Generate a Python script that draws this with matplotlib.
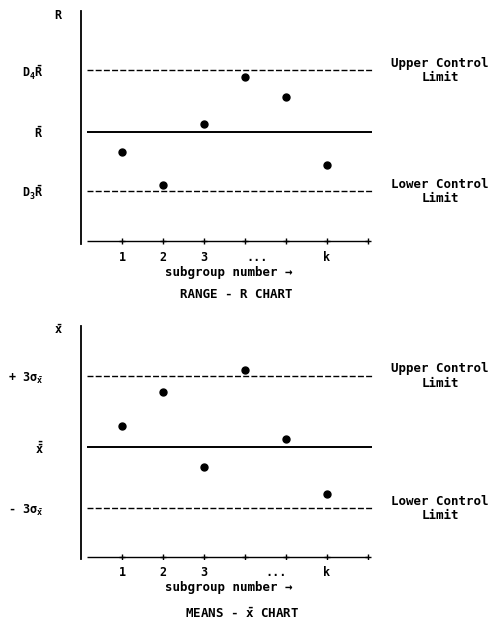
#!/usr/bin/env python3

# Shewhart control charts: range (R) chart on top, means (x-bar) chart below.

from matplotlib import pyplot as plt

plt.rcParams["font.family"] = ["DejaVu Sans Mono"]
plt.rcParams["font.weight"] = "bold"
plt.rcParams["axes.labelweight"] = "bold"
plt.rcParams["mathtext.fontset"] = "custom"
plt.rcParams["mathtext.rm"] = "DejaVu Sans Mono:bold"
plt.rcParams["mathtext.it"] = "DejaVu Sans Mono:bold"
plt.rcParams["mathtext.bf"] = "DejaVu Sans Mono:bold"

# subgroup positions and tick labels
subgroups = [1, 2, 3, 4, 5, 6]
tick_pos = [1, 2, 3, 7]
tick_lab = ["1", "2", "3", ""]

# range chart (centre line = 0)
r_values = [-0.98, -2.6, 0.4, 2.7, 1.7, -1.6]
r_ucl, r_cl, r_lcl = 3.0, 0.0, -2.9
r_ylabels = [r"$D_4\bar{R}$", r"$\bar{R}$", r"$D_3\bar{R}$"]

# means chart (centre line = 0)
m_values = [1.0, 2.7, -1.0, 3.75, 0.4, -2.3]
m_ucl, m_cl, m_lcl = 3.45, 0.0, -3.0
m_ylabels = [r"+ 3$\sigma_{\bar{x}}$", r"$\bar{\bar{x}}$", r"- 3$\sigma_{\bar{x}}$"]

fig = plt.figure(figsize=(4.95, 6.22), dpi=100)
ax1 = fig.add_axes([0.1636, 0.6082, 0.596, 0.3741])
ax2 = fig.add_axes([0.1636, 0.1018, 0.596, 0.3741])

dash = (0, (4.3, 1.6))
fs = 9


def draw_chart(ax, values, ucl, cl, lcl, ylabels, ylab, dots_x, base):
    ax.set_xlim(0, 7.195)
    ax.set_ylim(-5.45, 5.9)
    for s in ["top", "right", "bottom"]:
        ax.spines[s].set_visible(False)
    ax.spines["left"].set_linewidth(1.3)

    ax.hlines([ucl, lcl], 0.15, 7.1, colors="black", linestyles=dash, linewidth=1.0)
    ax.hlines(cl, 0.15, 7.1, colors="black", linewidth=1.4)
    ax.hlines(base, 0.15, 7.0, colors="black", linewidth=1.0)
    ax.plot(range(1, 8), [base] * 7, "+", color="black", ms=4, mew=1.0)
    ax.plot(subgroups, values, "o", color="black", ms=5)

    ax.set_xticks(tick_pos + [dots_x, 6], tick_lab + ["...", "k"])
    ax.tick_params(axis="x", length=0, pad=5, labelsize=fs - 0.5)
    ax.set_yticks([ucl, cl, lcl], ylabels)
    ax.tick_params(axis="y", length=0, pad=27, labelsize=fs - 0.5)
    ax.set_xlabel("subgroup number \u2192", fontsize=fs, labelpad=2)

    ax.text(-0.56, 5.7, ylab, fontsize=fs - 0.5, ha="center", va="center")
    ax.text(8.76, ucl, "Upper Control\nLimit", fontsize=fs, ha="center",
            va="center", linespacing=1.15, clip_on=False)
    ax.text(8.76, lcl, "Lower Control\nLimit", fontsize=fs, ha="center",
            va="center", linespacing=1.15, clip_on=False)


draw_chart(ax1, r_values, r_ucl, r_cl, r_lcl, r_ylabels, "R", 4.3, -5.32)
draw_chart(ax2, m_values, m_ucl, m_cl, m_lcl, m_ylabels, r"$\bar{x}$", 4.75, -5.37)

fig.text(236 / 495, 1 - 295 / 622, "RANGE - R CHART", fontsize=fs,
         ha="center", va="center")
fig.text(242 / 495, 1 - 614 / 622, r"MEANS - $\bar{x}$ CHART", fontsize=fs,
         ha="center", va="center")

fig.savefig("out.png", dpi=100)
